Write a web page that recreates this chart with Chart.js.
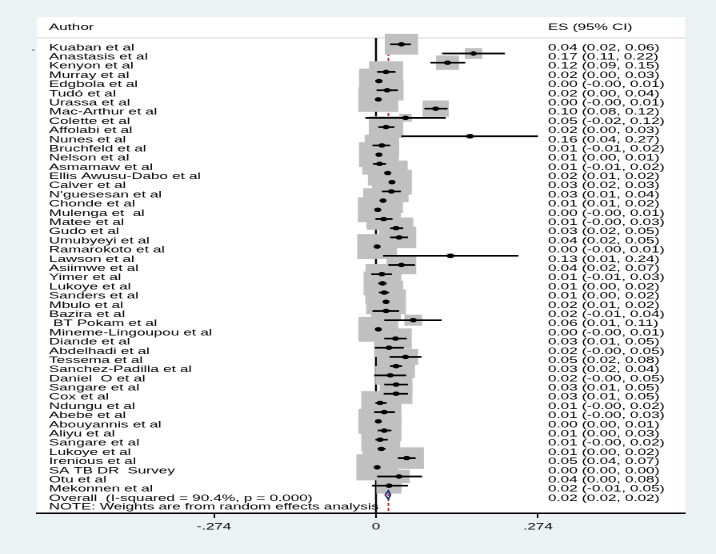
<!DOCTYPE html>
<html><head><meta charset="utf-8">
<script src="https://cdn.jsdelivr.net/npm/chart.js@4/dist/chart.umd.min.js"></script>
<style>
html,body{margin:0;padding:0;background:#eaf2f3;overflow:hidden;width:716px;height:554px;}
#wrap{position:absolute;left:0;top:0;width:448px;height:554px;transform:scaleX(1.6);transform-origin:0 0;}
</style></head><body>
<div id="wrap"><canvas id="c"></canvas></div>
<script>
// ---------- data ----------
const authors = ["Kuaban et al","Anastasis et al","Kenyon et al","Murray et al","Edgbola et al","Tudó et al","Urassa et al","Mac-Arthur et al","Colette et al","Affolabi et al","Nunes et al","Bruchfeld et al","Nelson et al","Asmamaw et al","Ellis Awusu-Dabo et al","Calver et al","N'guesesan et al","Chonde et al","Mulenga et  al","Matee et al","Gudo et al","Umubyeyi et al","Ramarokoto et al","Lawson et al","Asiimwe et al","Yimer et al","Lukoye et al","Sanders et al","Mbulo et al","Bazira et al"," BT Pokam et al","Mineme-Lingoupou et al","Diande et al","Abdelhadi et al","Tessema et al","Sanchez-Padilla et al","Daniel  O et al","Sangare et al","Cox et al","Ndungu et al","Abebe et al","Abouyannis et al","Aliyu et al","Sangare et al","Lukoye et al","Irenious et al","SA TB DR  Survey","Otu et al","Mekonnen et al"];
const es     = [0.043,0.165,0.121,0.017,0.005,0.019,0.004,0.101,0.050,0.017,0.159,0.010,0.005,0.006,0.020,0.027,0.026,0.012,0.003,0.013,0.034,0.039,0.002,0.126,0.043,0.010,0.011,0.014,0.017,0.017,0.063,0.004,0.033,0.022,0.050,0.034,0.024,0.034,0.034,0.007,0.014,0.004,0.014,0.007,0.009,0.052,0.002,0.039,0.022];
const ciLow  = [0.024,0.112,0.092,0.002,-0.001,0.001,-0.001,0.082,-0.018,0.004,0.043,-0.006,0.001,-0.005,0.014,0.022,0.010,0.008,-0.001,-0.001,0.024,0.024,-0.001,0.012,0.021,-0.008,0.004,0.005,0.012,-0.006,0.014,-0.001,0.014,-0.002,0.023,0.024,-0.003,0.014,0.013,-0.001,-0.003,0.001,0.003,-0.001,0.003,0.037,0.001,0.002,-0.007];
const ciHigh = [0.059,0.218,0.151,0.033,0.011,0.037,0.009,0.121,0.118,0.031,0.274,0.024,0.009,0.017,0.024,0.031,0.042,0.017,0.007,0.028,0.046,0.054,0.006,0.241,0.066,0.027,0.018,0.022,0.022,0.039,0.111,0.009,0.052,0.047,0.077,0.044,0.051,0.054,0.054,0.018,0.032,0.008,0.026,0.020,0.016,0.067,0.003,0.078,0.054];
const weights = [2.02,0.55,0.98,2.12,2.90,1.95,2.90,1.26,0.29,2.17,0.11,2.17,2.90,2.17,2.90,2.90,2.17,2.90,2.90,2.17,2.17,2.17,2.90,0.11,1.62,1.95,2.62,2.62,2.90,1.62,0.58,2.90,1.95,1.62,1.17,2.62,1.62,1.95,1.95,2.62,2.17,2.90,2.17,2.62,2.62,2.17,3.18,0.84,1.17];
const esText = ["0.04 (0.02, 0.06)","0.17 (0.11, 0.22)","0.12 (0.09, 0.15)","0.02 (0.00, 0.03)","0.00 (-0.00, 0.01)","0.02 (0.00, 0.04)","0.00 (-0.00, 0.01)","0.10 (0.08, 0.12)","0.05 (-0.02, 0.12)","0.02 (0.00, 0.03)","0.16 (0.04, 0.27)","0.01 (-0.01, 0.02)","0.01 (0.00, 0.01)","0.01 (-0.01, 0.02)","0.02 (0.01, 0.02)","0.03 (0.02, 0.03)","0.03 (0.01, 0.04)","0.01 (0.01, 0.02)","0.00 (-0.00, 0.01)","0.01 (-0.00, 0.03)","0.03 (0.02, 0.05)","0.04 (0.02, 0.05)","0.00 (-0.00, 0.01)","0.13 (0.01, 0.24)","0.04 (0.02, 0.07)","0.01 (-0.01, 0.03)","0.01 (0.00, 0.02)","0.01 (0.00, 0.02)","0.02 (0.01, 0.02)","0.02 (-0.01, 0.04)","0.06 (0.01, 0.11)","0.00 (-0.00, 0.01)","0.03 (0.01, 0.05)","0.02 (-0.00, 0.05)","0.05 (0.02, 0.08)","0.03 (0.02, 0.04)","0.02 (-0.00, 0.05)","0.03 (0.01, 0.05)","0.03 (0.01, 0.05)","0.01 (-0.00, 0.02)","0.01 (-0.00, 0.03)","0.00 (0.00, 0.01)","0.01 (0.00, 0.03)","0.01 (-0.00, 0.02)","0.01 (0.00, 0.02)","0.05 (0.04, 0.07)","0.00 (0.00, 0.00)","0.04 (0.00, 0.08)","0.02 (-0.01, 0.05)"];
const overallLabel = "Overall  (I-squared = 90.4%, p = 0.000)";
const overallES = 0.021, overallLow = 0.0155, overallHigh = 0.0245;
const overallText = "0.02 (0.02, 0.02)";
const noteText = "NOTE: Weights are from random effects analysis";
const headerLabels = ["Author", "ES (95% CI)"];
const tickValues = [-0.274, 0, 0.274];
const tickLabels = ["-.274", "0", ".274"];

// ---------- layout constants ----------
const nStudies = authors.length;
const overallRow = nStudies, noteRow = nStudies + 1;
const yMin = -2.969, yMax = 50.97, headerRow = -2.21, ruleRow = -0.685;
const xMin = -0.5734, xMax = 0.5227;
const authorColX = -0.553, esColX = 0.291, strayX = -0.5836;
const boxK = 14.6;
const FONT = '9.5px "Liberation Sans", Arial, Helvetica, sans-serif';

// ---------- datasets ----------
const rows = authors.map((_, i) => i);
const boxData = rows.map(i => ({x: es[i], y: i}));
const dotData = rows.map(i => ({x: es[i], y: i}));
const ciData = [];
rows.forEach(i => { ciData.push({x: ciLow[i], y: i}, {x: ciHigh[i], y: i}, {x: null, y: null}); });
const dh = 0.45;
const diamondData = [
  {x: overallLow, y: overallRow}, {x: overallES, y: overallRow - dh},
  {x: overallHigh, y: overallRow}, {x: overallES, y: overallRow + dh},
  {x: overallLow, y: overallRow}
];

const textPlugin = {
  id: 'forestText',
  beforeDraw(chart) {
    const {ctx, chartArea: a, scales: {y}} = chart;
    ctx.save();
    ctx.fillStyle = '#ffffff';
    ctx.fillRect(a.left, a.top, a.right - a.left, a.bottom - a.top);
    const hy = y.getPixelForValue(ruleRow);
    ctx.strokeStyle = '#d4d8d8'; ctx.lineWidth = 1;
    ctx.beginPath(); ctx.moveTo(a.left, hy); ctx.lineTo(a.right, hy); ctx.stroke();
    ctx.restore();
  },
  afterDatasetsDraw(chart) {
    const {ctx, scales: {x, y}} = chart;
    ctx.save();
    ctx.font = FONT; ctx.fillStyle = '#000'; ctx.textBaseline = 'alphabetic'; ctx.textAlign = 'left';
    const ax = x.getPixelForValue(authorColX), ex = x.getPixelForValue(esColX);
    const off = 6;
    ctx.fillText(headerLabels[0], ax, y.getPixelForValue(headerRow) + off);
    ctx.fillText(headerLabels[1], ex, y.getPixelForValue(headerRow) + off);
    rows.forEach(i => {
      const py = y.getPixelForValue(i) + off;
      ctx.fillText(authors[i], ax, py);
      ctx.fillText(esText[i], ex, py);
    });
    ctx.fillText('.', x.getPixelForValue(strayX), y.getPixelForValue(0) + off);
    ctx.fillText(overallLabel, ax, y.getPixelForValue(overallRow) + off);
    ctx.fillText(overallText, ex, y.getPixelForValue(overallRow) + off);
    ctx.fillText(noteText, ax, y.getPixelForValue(noteRow) + off - 0.5);
    ctx.restore();
  }
};

new Chart(document.getElementById('c'), {
  type: 'scatter',
  data: {
    datasets: [
      { label: 'null', data: [{x: 0, y: ruleRow}, {x: 0, y: yMax}], showLine: true,
        borderColor: '#000', borderWidth: 1.25, pointRadius: 0, order: 5 },
      { label: 'overall line', data: [{x: overallES, y: ruleRow}, {x: overallES, y: yMax}], showLine: true,
        borderColor: '#b22a2a', borderWidth: 1, borderDash: [3, 2], pointRadius: 0, order: 4 },
      { label: 'boxes', data: boxData, pointStyle: 'rect', backgroundColor: '#c0c0c0', borderWidth: 0,
        pointRadius: ctx => boxK * Math.sqrt(weights[ctx.dataIndex]) / Math.SQRT2, order: 3 },
      { label: 'ci', data: ciData, showLine: true, spanGaps: false, borderColor: '#000',
        borderWidth: 1.7, pointRadius: 0, order: 2 },
      { label: 'es', data: dotData, pointStyle: 'circle', pointRadius: 2.2, backgroundColor: '#000',
        borderWidth: 0, order: 1 },
      { label: 'overall', data: diamondData, showLine: true, borderColor: '#1f2a7a', borderWidth: 1.1,
        pointRadius: 0, order: 0 }
    ]
  },
  options: {
    responsive: true, maintainAspectRatio: false, animation: false, devicePixelRatio: 2,
    layout: { autoPadding: false, padding: { left: 23.125, right: 19.875, top: 17, bottom: 15 } },
    plugins: { legend: { display: false }, tooltip: { enabled: false } },
    scales: {
      x: {
        type: 'linear', min: xMin, max: xMax,
        afterBuildTicks: s => { s.ticks = tickValues.map(v => ({value: v})); },
        afterFit: s => { s.height = 26; },
        ticks: { callback: (v, i) => tickLabels[i], color: '#000', padding: 3, autoSkip: false, maxRotation: 0,
          font: { family: '"Liberation Sans", Arial, Helvetica, sans-serif', size: 9.5 } },
        grid: { drawOnChartArea: false, drawTicks: true, tickLength: 5, color: '#000', lineWidth: 1 },
        border: { display: true, color: '#000', width: 1.5 }
      },
      y: { type: 'linear', min: yMin, max: yMax, reverse: true, display: false }
    }
  },
  plugins: [textPlugin]
});
</script>
</body></html>
